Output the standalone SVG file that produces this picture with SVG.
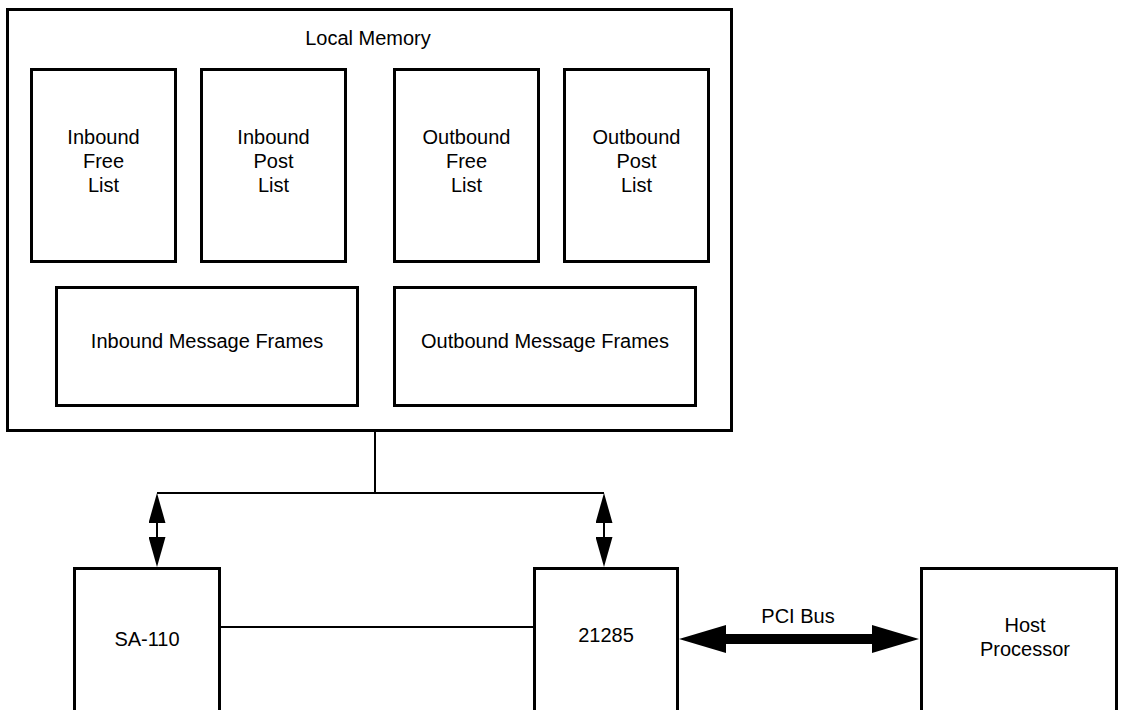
<svg xmlns="http://www.w3.org/2000/svg" width="1122" height="710" viewBox="0 0 1122 710">
  <style>
    .box { fill: #fff; stroke: #000; stroke-width: 3; }
    .lbl { font-family: "Liberation Sans", Arial, sans-serif; font-size: 20px; fill: #000; text-anchor: middle; }
    .wire { stroke: #000; stroke-width: 2; fill: none; }
    .bus { stroke: #000; stroke-width: 10; fill: none; }
  </style>
  <defs>
    <marker id="ah" markerUnits="userSpaceOnUse" viewBox="0 0 30 17" refX="0" refY="8.5" markerWidth="30" markerHeight="17" orient="auto-start-reverse">
      <path d="M0,0 L30,8.5 L0,17 Z" fill="#000"/>
    </marker>
    <marker id="bh" markerUnits="userSpaceOnUse" viewBox="0 0 47 28" refX="0" refY="14" markerWidth="47" markerHeight="28" orient="auto-start-reverse">
      <path d="M0,0 L47,14 L0,28 Z" fill="#000"/>
    </marker>
  </defs>

  <g id="local-memory">
    <rect class="box" x="7.5" y="9.5" width="724" height="421"/>
    <text class="lbl" x="368" y="45">Local Memory</text>
  </g>
  <g id="inbound-free-list">
    <rect class="box" x="31.5" y="69.5" width="144" height="192"/>
    <text class="lbl" x="103.5" y="144">Inbound</text>
    <text class="lbl" x="103.5" y="168">Free</text>
    <text class="lbl" x="103.5" y="192">List</text>
  </g>
  <g id="inbound-post-list">
    <rect class="box" x="201.5" y="69.5" width="144" height="192"/>
    <text class="lbl" x="273.5" y="144">Inbound</text>
    <text class="lbl" x="273.5" y="168">Post</text>
    <text class="lbl" x="273.5" y="192">List</text>
  </g>
  <g id="outbound-free-list">
    <rect class="box" x="394.5" y="69.5" width="144" height="192"/>
    <text class="lbl" x="466.5" y="144">Outbound</text>
    <text class="lbl" x="466.5" y="168">Free</text>
    <text class="lbl" x="466.5" y="192">List</text>
  </g>
  <g id="outbound-post-list">
    <rect class="box" x="564.5" y="69.5" width="144" height="192"/>
    <text class="lbl" x="636.5" y="144">Outbound</text>
    <text class="lbl" x="636.5" y="168">Post</text>
    <text class="lbl" x="636.5" y="192">List</text>
  </g>
  <g id="inbound-message-frames">
    <rect class="box" x="56.5" y="287.5" width="301" height="118"/>
    <text class="lbl" x="207" y="348">Inbound Message Frames</text>
  </g>
  <g id="outbound-message-frames">
    <rect class="box" x="394.5" y="287.5" width="301" height="118"/>
    <text class="lbl" x="545" y="348">Outbound Message Frames</text>
  </g>
  <g id="sa-110">
    <rect class="box" x="74.5" y="568.5" width="145" height="160"/>
    <text class="lbl" x="147" y="646">SA-110</text>
  </g>
  <g id="chip-21285">
    <rect class="box" x="534.5" y="568.5" width="143" height="160"/>
    <text class="lbl" x="606" y="642">21285</text>
  </g>
  <g id="host-processor">
    <rect class="box" x="921.5" y="568.5" width="195" height="160"/>
    <text class="lbl" x="1025" y="632">Host</text>
    <text class="lbl" x="1025" y="656">Processor</text>
  </g>

  <g id="connectors">
    <path class="wire" d="M375,432 V493 M157,493 H604"/>
    <line class="wire" x1="157" y1="523" x2="157" y2="537" marker-start="url(#ah)" marker-end="url(#ah)"/>
    <line class="wire" x1="604" y1="523" x2="604" y2="537" marker-start="url(#ah)" marker-end="url(#ah)"/>
    <line class="wire" x1="221" y1="627" x2="533" y2="627"/>
    <line class="bus" x1="726" y1="639" x2="872" y2="639" marker-start="url(#bh)" marker-end="url(#bh)"/>
    <text class="lbl" x="798" y="623">PCI Bus</text>
  </g>
</svg>
